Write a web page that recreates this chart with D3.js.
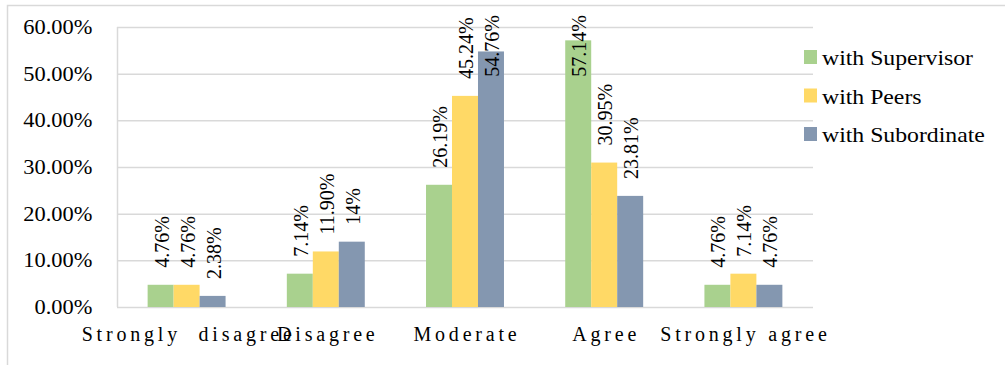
<!DOCTYPE html>
<html>
<head>
<meta charset="utf-8">
<script src="https://cdn.jsdelivr.net/npm/d3@7/dist/d3.min.js"></script>
<style>
  html, body { margin: 0; padding: 0; background: #ffffff; }
  svg { display: block; }
</style>
</head>
<body>
<svg id="chart" width="1005" height="365"></svg>
<script>
// Response categories along the x axis
const categories = ["Strongly  disagree", "Disagree", "Moderate", "Agree", "Strongly agree"];

// Series names and their percentages per category
const seriesNames = ["with Supervisor", "with Peers", "with Subordinate"];
const supervisor  = [4.76, 7.14, 26.19, 57.14, 4.76];
const peers       = [4.76, 11.90, 45.24, 30.95, 7.14];
const subordinate = [2.38, 14, 54.76, 23.81, 4.76];

// Y axis ticks (percent)
const yTicks = [0, 10, 20, 30, 40, 50, 60];

const colors = ["#A9D18E", "#FFD966", "#8497B0"];
const seriesValues = [supervisor, peers, subordinate];

const svg = d3.select("#chart");
const W = 1005, H = 365;
const margin = { left: 117, top: 27 };
const plotW = 696, plotH = 280;
const gridColor = "#d9d9d9";
const serif = '"Liberation Serif", serif';

// Outer chart frame
svg.append("rect")
  .attr("x", 7.5).attr("y", 5.5)
  .attr("width", W + 20).attr("height", H + 20)
  .attr("fill", "none")
  .attr("stroke", gridColor)
  .attr("stroke-width", 1.5);

const g = svg.append("g").attr("transform", `translate(${margin.left},${margin.top})`);

const x0 = d3.scaleBand()
  .domain(categories)
  .range([0, plotW])
  .paddingInner(0.44)
  .paddingOuter(0.22);

const x1 = d3.scaleBand()
  .domain(seriesNames)
  .range([0, x0.bandwidth()]);

const y = d3.scaleLinear().domain([0, 60]).range([plotH, 0]);

// Gridlines + y tick labels
const yAxis = d3.axisLeft(y)
  .tickValues(yTicks)
  .tickSize(-plotW)
  .tickPadding(0)
  .tickFormat(d => d.toFixed(2) + "%");

const ya = g.append("g").call(yAxis);
ya.attr("font-family", null).attr("font-size", null);
ya.select(".domain")
  .attr("stroke", gridColor)
  .attr("stroke-width", 1.5)
  .attr("d", `M0.5,0V${plotH}`);
ya.selectAll(".tick line")
  .attr("stroke", gridColor)
  .attr("stroke-width", 1.5);
ya.selectAll(".tick text")
  .style("font-family", serif)
  .style("font-size", "20px")
  .attr("fill", "#000")
  .attr("x", -22)
  .attr("dy", "0.33em")
  .attr("transform", "scale(1.12,1)");

// Bars
const groups = g.selectAll("g.cat")
  .data(categories)
  .join("g")
  .attr("class", "cat")
  .attr("transform", c => `translate(${x0(c)},0)`);

const cells = groups.selectAll("g.cell")
  .data((c, i) => seriesNames.map((s, k) => ({ series: s, k, value: seriesValues[k][i] })))
  .join("g")
  .attr("class", "cell");

cells.append("rect")
  .attr("x", d => x1(d.series))
  .attr("width", x1.bandwidth())
  .attr("y", d => y(d.value))
  .attr("height", d => plotH - y(d.value))
  .attr("fill", d => colors[d.k]);

// Value labels, rotated; kept inside the chart's top edge
const fmt = v => (Number.isInteger(v) ? v : v.toFixed(2)) + "%";
const labelTop = 15 - margin.top;
cells.append("text")
  .style("font-family", serif)
  .style("font-size", "20px")
  .attr("fill", "#000")
  .attr("dominant-baseline", "central")
  .text(d => fmt(d.value))
  .each(function (d) {
    const L = this.getComputedTextLength();
    let ys = y(d.value) - 17;
    if (ys - L < labelTop) ys = labelTop + L;
    const cx = x1(d.series) + x1.bandwidth() / 2 + 1;
    d3.select(this).attr("transform", `translate(${cx},${ys}) rotate(-90)`);
  });

// Category labels
g.selectAll("text.catlabel")
  .data(categories)
  .join("text")
  .attr("class", "catlabel")
  .style("font-family", serif)
  .style("font-size", "20px")
  .attr("fill", "#000")
  .attr("x", c => x0(c) + x0.bandwidth() / 2 + 2)
  .attr("y", 314)
  .attr("text-anchor", "middle")
  .attr("letter-spacing", 3.8)
  .style("white-space", "pre")
  .text(c => c);

// Legend
const legend = svg.append("g").attr("transform", "translate(804,0)");
const legendRows = [65, 103.5, 142];
seriesNames.forEach((s, k) => {
  legend.append("rect")
    .attr("x", 0)
    .attr("y", legendRows[k] - 15)
    .attr("width", 13)
    .attr("height", 14)
    .attr("fill", colors[k]);
  legend.append("text")
    .attr("transform", `translate(18,${legendRows[k]}) scale(1.08,1)`)
    .style("font-family", serif)
    .style("font-size", "22px")
    .attr("fill", "#000")
    .text(s);
});
</script>
</body>
</html>
